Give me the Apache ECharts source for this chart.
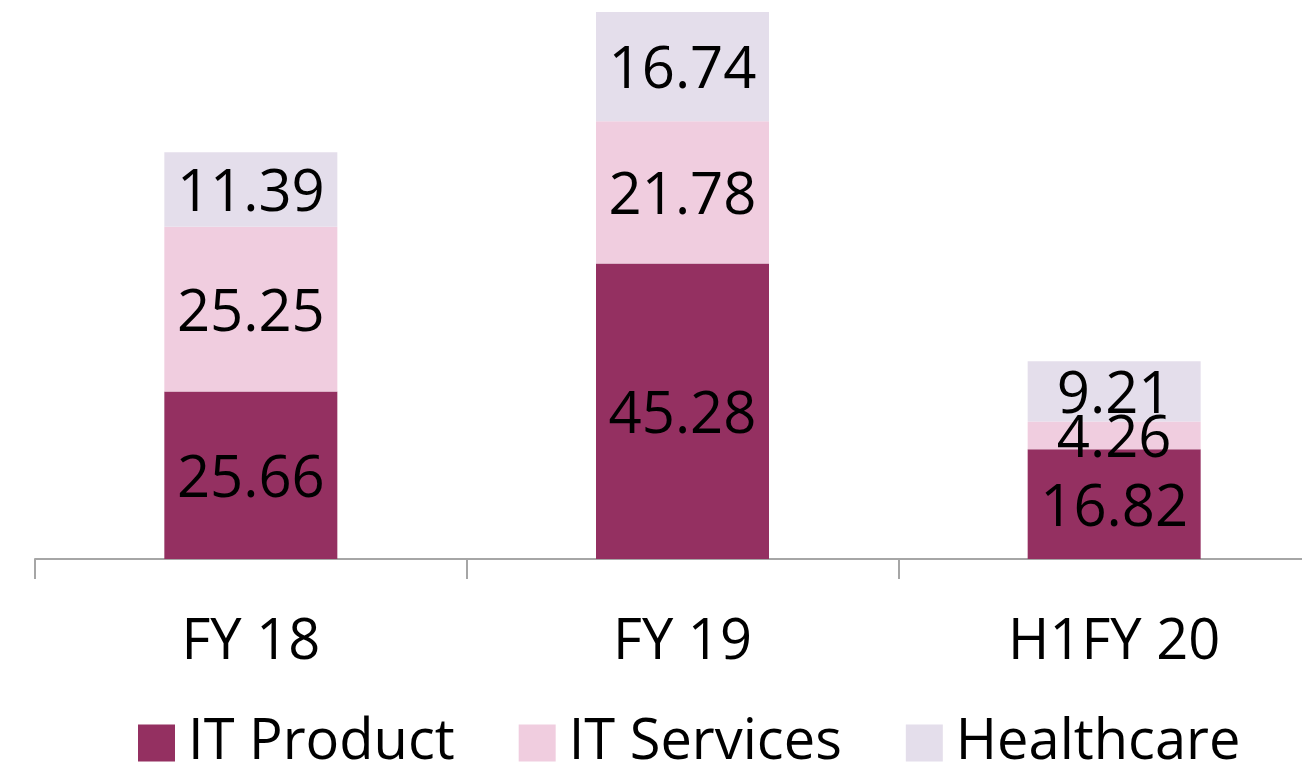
<!DOCTYPE html>
<html lang="en">
<head>
	<meta charset="UTF-8">
	<title>Revenue mix</title>
	<script type="text/javascript" src="https://cdn.jsdelivr.net/npm/echarts@6/dist/echarts.min.js"></script>
	<style type="text/css">
		html,body{margin:0;padding:0;background:#fff;overflow:hidden;}
	</style>
</head>
<body>
	<!-- the last category runs past the right edge, so the canvas is wider than the window -->
	<div id="main" style="width:1330px;height:773px;"></div>
	<script>
		var periods = ['FY 18', 'FY 19', 'H1FY 20'];
		var itProduct = [25.66, 45.28, 16.82];
		var itServices = [25.25, 21.78, 4.26];
		var healthcare = [11.39, 16.74, 9.21];

		var font = 'Open Sans';
		var chart = echarts.init(document.getElementById('main'));

		function barSeries(name, data, color){
			return {
				name: name,
				type: 'bar',
				stack: 'total',
				barWidth: 173,
				data: data,
				itemStyle: { color: color },
				label: {
					show: true,
					position: 'inside',
					offset: [0, 5],
					color: '#000',
					fontFamily: font,
					fontSize: 58,
					formatter: function(p){ return p.value.toFixed(2); }
				}
			};
		}

		var option = {
			animation: false,
			grid: { left: 35, right: 0, top: 12, bottom: 214 },
			legend: {
				left: 138,
				top: 715,
				padding: 0,
				itemWidth: 37,
				itemHeight: 37,
				itemGap: 64,
				icon: 'rect',
				textStyle: { fontFamily: font, fontSize: 56, color: '#000', padding: [0, 0, 0, 8] },
				data: ['IT Product', 'IT Services', 'Healthcare']
			},
			xAxis: {
				type: 'category',
				data: periods,
				axisLine: { lineStyle: { color: '#a6a6a6', width: 2 } },
				axisTick: { show: true, length: 20, lineStyle: { color: '#a6a6a6', width: 2 } },
				axisLabel: { fontFamily: font, fontSize: 56, color: '#000', margin: 56 }
			},
			yAxis: {
				type: 'value',
				min: 0,
				max: 83.8,
				show: false,
				splitLine: { show: false }
			},
			series: [
				barSeries('IT Product', itProduct, '#943061'),
				barSeries('IT Services', itServices, '#f0cddf'),
				barSeries('Healthcare', healthcare, '#e4deeb')
			]
		};
		chart.setOption(option);
	</script>
</body>
</html>
